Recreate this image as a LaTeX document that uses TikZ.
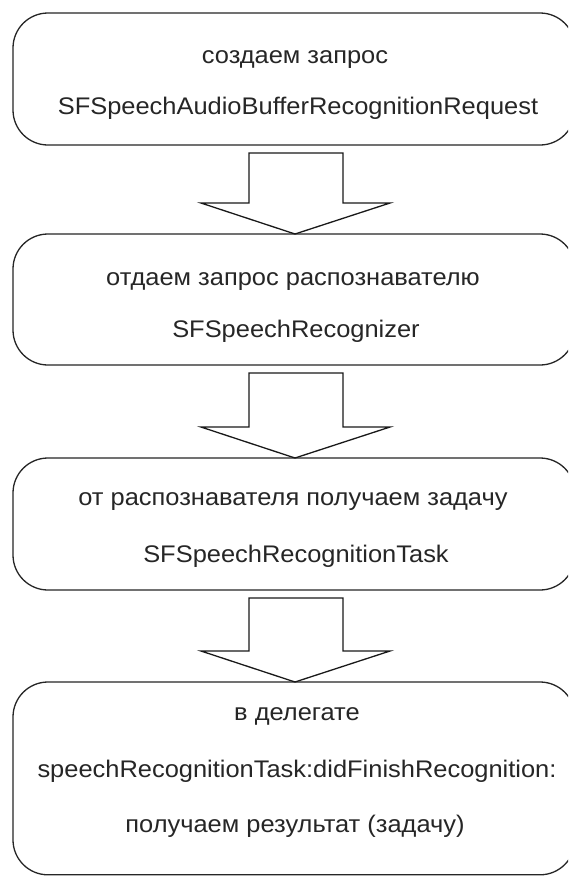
\documentclass[tikz,border=0pt]{standalone}
\usepackage{fontspec}
\setmainfont{Liberation Sans}
\newfontfamily\diagfont[FakeStretch=1.06]{Liberation Sans}
\usetikzlibrary{calc}
\tikzset{
  box/.style={draw=black!85, line width=1.3pt, rounded corners=35pt, rectangle,
    minimum width=562pt, anchor=north west, inner sep=0pt, outer sep=0pt},
  lbl/.style={anchor=base, inner sep=0pt, text=black!85,
    font=\diagfont\fontsize{24}{28}\selectfont},
  arrowline/.style={draw=black!90, line width=1.3pt, fill=white, line join=miter}
}
\newcommand\blockarrow[2]{%
  \draw[arrowline] ($(#1.south)+(-45,8)$) -- ($(#1.south)+(49,8)$)
    -- ($(#2.north)+(49,-31)$) -- ($(#2.north)+(96,-31)$)
    -- ($(#2.north)+(1,0)$)
    -- ($(#2.north)+(-93,-31)$) -- ($(#2.north)+(-45,-31)$) -- cycle;}
\begin{document}
\begin{tikzpicture}[x=1pt,y=-1pt]
\useasboundingbox (0,0) rectangle (568,876);
\clip (0,0) rectangle (568,876);
\fill[white] (0,0) rectangle (568,876);
% boxes
\node[box, minimum height=132pt] (b1) at (13,13) {};
\node[box, minimum height=131pt] (b2) at (13,234) {};
\node[box, minimum height=132pt] (b3) at (13,458) {};
\node[box, minimum height=192.8pt] (b4) at (13,682) {};
% texts
\node[lbl] (t11) at (295,63) {создаем запрос};
\node[lbl] (t12) at (298,114) {SFSpeechAudioBufferRecognitionRequest};
\node[lbl] (t21) at (293,285) {отдаем запрос распознавателю};
\node[lbl] (t22) at (296,337) {SFSpeechRecognizer};
\node[lbl] (t31) at (293,505) {от распознавателя получаем задачу};
\node[lbl] (t32) at (296,562) {SFSpeechRecognitionTask};
\node[lbl] (t41) at (297,720) {в делегате};
\node[lbl] (t42) at (297,777) {speechRecognitionTask:didFinishRecognition:};
\node[lbl] (t43) at (295,832) {получаем результат (задачу)};
% arrows
\blockarrow{b1}{b2}
\blockarrow{b2}{b3}
\blockarrow{b3}{b4}
\end{tikzpicture}
\end{document}
